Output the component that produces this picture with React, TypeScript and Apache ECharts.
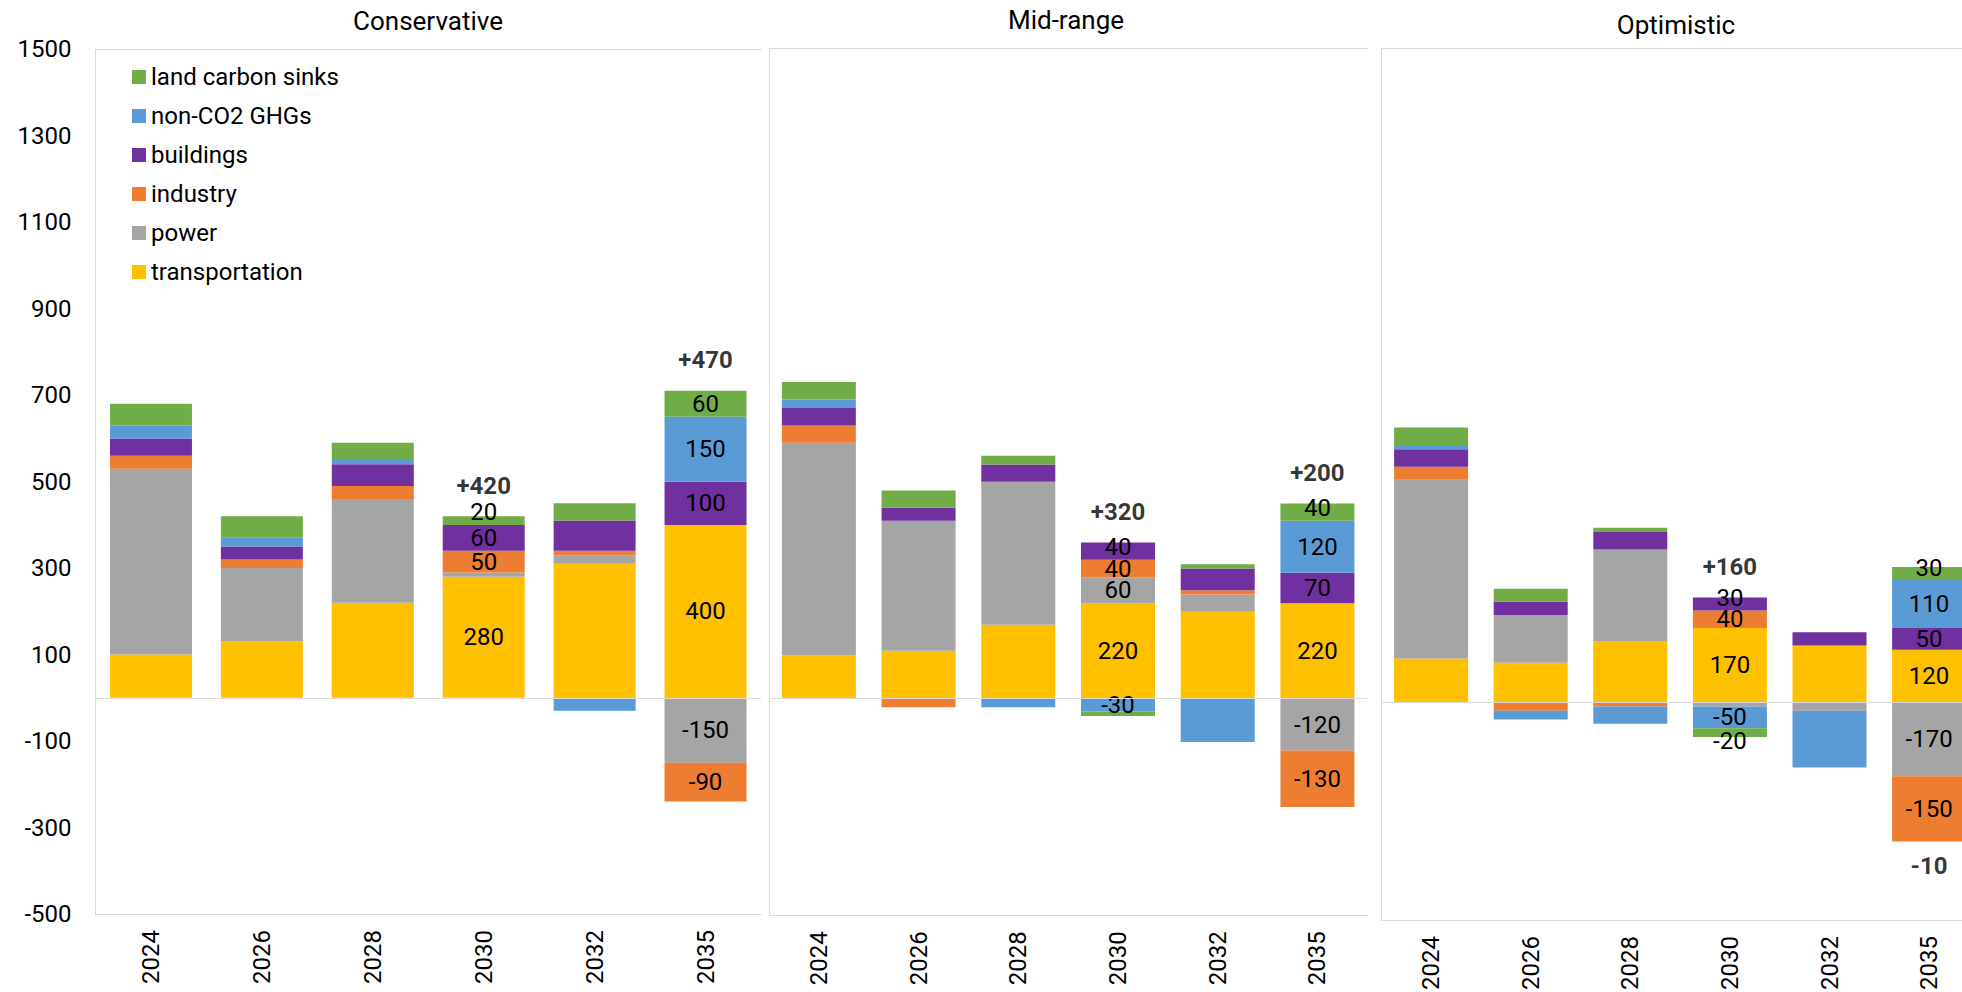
import React, { useEffect, useRef } from "react";
import * as echarts from "echarts";

const years = ["2024", "2026", "2028", "2030", "2032", "2035"];
const labeledYears = ["2030", "2035"];
const sectors = ["transportation", "power", "industry", "buildings", "non-CO2 GHGs", "land carbon sinks"];
const sectorColors = ["#FFC000", "#A5A5A5", "#ED7D31", "#7030A0", "#5B9BD5", "#70AD47"];
const legendOrder = ["land carbon sinks", "non-CO2 GHGs", "buildings", "industry", "power", "transportation"];
const scenarios = ["Conservative", "Mid-range", "Optimistic"];

const yMin = -500;
const yMax = 1500;
const yStep = 200;

// Conservative
const consTransportation = [100, 130, 220, 280, 310, 400];
const consPower = [430, 170, 240, 10, 20, -150];
const consIndustry = [30, 20, 30, 50, 10, -90];
const consBuildings = [40, 30, 50, 60, 70, 100];
const consNonCO2 = [30, 20, 10, 0, -30, 150];
const consLand = [50, 50, 40, 20, 40, 60];

// Mid-range
const midTransportation = [100, 110, 170, 220, 200, 220];
const midPower = [490, 300, 330, 60, 40, -120];
const midIndustry = [40, -20, 0, 40, 10, -130];
const midBuildings = [40, 30, 40, 40, 50, 70];
const midNonCO2 = [20, 0, -20, -30, -100, 120];
const midLand = [40, 40, 20, -10, 10, 40];

// Optimistic
const optTransportation = [100, 90, 140, 170, 130, 120];
const optPower = [410, 110, 210, -10, -20, -170];
const optIndustry = [30, -20, -10, 40, 0, -150];
const optBuildings = [40, 30, 40, 30, 30, 50];
const optNonCO2 = [10, -20, -40, -50, -130, 110];
const optLand = [40, 30, 10, -20, 0, 30];

const scenarioData = [
  [consTransportation, consPower, consIndustry, consBuildings, consNonCO2, consLand],
  [midTransportation, midPower, midIndustry, midBuildings, midNonCO2, midLand],
  [optTransportation, optPower, optIndustry, optBuildings, optNonCO2, optLand],
];

// layout (pixels)
const panels = [
  { left: 95.5, top: 49.3, width: 665.5, height: 864.7, barWidth: 82, titleX: 428, titleY: 21.2 },
  { left: 769, top: 48.3, width: 598.3, height: 867, barWidth: 74, titleX: 1066, titleY: 19.7 },
  { left: 1381.3, top: 48.3, width: 597.6, height: 871.7, barWidth: 74, titleX: 1676, titleY: 24.7 },
];

const FONT = "Roboto";
const BORDER = "#D9D9D9";
const LABEL_H = 25;

function buildOption() {
  const grid: any[] = [];
  const xAxis: any[] = [];
  const yAxis: any[] = [];
  const series: any[] = [];
  const graphic: any[] = [];

  panels.forEach((p, i) => {
    grid.push({ left: p.left, top: p.top, width: p.width, height: p.height, containLabel: false, outerBoundsMode: "none" });
    xAxis.push({
      type: "category",
      gridIndex: i,
      data: years,
      position: "bottom",
      axisLine: { show: true, onZero: false, lineStyle: { color: BORDER, width: 1 } },
      axisTick: { show: false },
      splitLine: { show: false },
      axisLabel: { rotate: 90, margin: 16, fontSize: 24, fontFamily: FONT, color: "#000" },
    });
    xAxis.push({
      type: "category",
      gridIndex: i,
      data: years,
      position: "top",
      axisLine: { show: true, onZero: false, lineStyle: { color: BORDER, width: 1 } },
      axisTick: { show: false },
      splitLine: { show: false },
      axisLabel: { show: false },
    });
    yAxis.push({
      type: "value",
      gridIndex: i,
      min: yMin,
      max: yMax,
      interval: yStep,
      axisLine: { show: true, lineStyle: { color: BORDER, width: 1 } },
      axisTick: { show: false },
      splitLine: { show: false },
      axisLabel: {
        show: i === 0,
        fontSize: 24,
        fontFamily: FONT,
        color: "#000",
        margin: 24,
        formatter: (v: number) => String(v),
      },
    });

    const data = scenarioData[i];
    const pxPerUnit = p.height / (yMax - yMin);

    // zero line
    series.push({
      type: "line",
      xAxisIndex: 2 * i,
      yAxisIndex: i,
      data: [],
      z: 1,
      silent: true,
      markLine: {
        silent: true,
        symbol: ["none", "none"],
        label: { show: false },
        lineStyle: { color: BORDER, type: "solid", width: 1 },
        data: [{ yAxis: 0 }],
      },
    });

    sectors.forEach((name, s) => {
      series.push({
        type: "bar",
        name,
        xAxisIndex: 2 * i,
        yAxisIndex: i,
        stack: "stack" + i,
        barWidth: p.barWidth,
        z: 2,
        itemStyle: { color: sectorColors[s] },
        label: {
          position: "inside",
          fontSize: 24,
          fontFamily: FONT,
          color: "#000",
          formatter: (prm: any) => String(prm.value),
        },
        data: data[s].map((v, c) => {
          const show = labeledYears.includes(years[c]) && Math.abs(v) >= 20;
          let posLast = -1;
          let negLast = -1;
          data.forEach((arr, k) => {
            if (arr[c] > 0) posLast = k;
            if (arr[c] < 0) negLast = k;
          });
          const segPx = Math.abs(v) * pxPerUnit;
          let dy = 0;
          if (s === posLast && v > 0) dy = -Math.max(0, (LABEL_H - segPx) / 2);
          if (s === negLast && v < 0) dy = Math.max(0, (LABEL_H - segPx) / 2);
          return { value: v, label: { show, offset: [0, dy] } };
        }),
      });
    });

    // totals
    const totalData: any[] = [];
    years.forEach((y, c) => {
      if (!labeledYears.includes(y)) return;
      let pos = 0;
      let neg = 0;
      data.forEach((arr) => {
        if (arr[c] > 0) pos += arr[c];
        else neg += arr[c];
      });
      const total = pos + neg;
      const text = (total > 0 ? "+" : "") + String(total);
      totalData.push({
        value: [c, total >= 0 ? pos : neg],
        label: {
          show: true,
          position: total >= 0 ? "top" : "bottom",
          distance: total >= 0 ? 18 : 12,
          formatter: () => text,
        },
      });
    });
    series.push({
      type: "scatter",
      name: "total" + i,
      xAxisIndex: 2 * i,
      yAxisIndex: i,
      symbolSize: 1,
      silent: true,
      z: 5,
      itemStyle: { color: "rgba(0,0,0,0)" },
      label: { fontSize: 24, fontWeight: "bold", fontFamily: FONT, color: "#000" },
      data: totalData,
    });

    graphic.push({
      type: "text",
      x: p.titleX,
      y: p.titleY,
      style: {
        text: scenarios[i],
        fontSize: 26,
        fontFamily: FONT,
        fill: "#000",
        align: "center",
        verticalAlign: "middle",
      },
    });
  });

  return {
    animation: false,
    backgroundColor: "#fff",
    grid,
    xAxis,
    yAxis,
    series,
    graphic,
    legend: {
      data: legendOrder,
      orient: "vertical",
      left: 127,
      top: 60,
      itemWidth: 14,
      itemHeight: 14,
      itemGap: 15,
      icon: "rect",
      selectedMode: false,
      textStyle: { fontSize: 24, fontFamily: FONT, color: "#000", lineHeight: 24 },
    },
  };
}

export default function App() {
  const ref = useRef<HTMLDivElement>(null);
  useEffect(() => {
    if (!ref.current) return;
    const chart = echarts.init(ref.current, null, { renderer: "svg" });
    chart.setOption(buildOption() as any);
    return () => chart.dispose();
  }, []);
  return (
    <div
      ref={ref}
      style={{ position: "absolute", left: 0, top: 0, width: 1962, height: 992, background: "#fff" }}
    />
  );
}
